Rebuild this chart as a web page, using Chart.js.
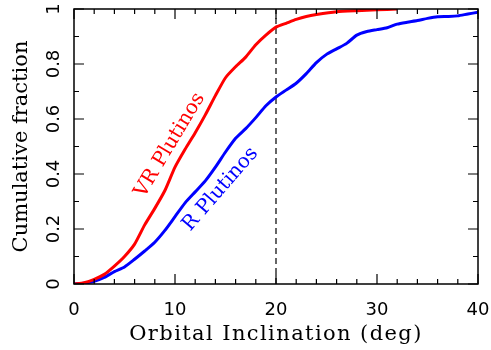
<!DOCTYPE html>
<html>
<head>
<meta charset="utf-8">
<script src="https://cdn.jsdelivr.net/npm/chart.js@4.4.0/dist/chart.umd.min.js"></script>
<style>
  html, body { margin: 0; padding: 0; background: #ffffff; }
</style>
</head>
<body>
<canvas id="cdfChart" width="491" height="350"></canvas>
<script>
// cumulative inclination distributions
const vrIncl = [0, 1, 2, 3, 4, 5, 6, 7, 8, 9, 10, 11, 12, 13, 14, 15, 16, 17, 18, 19, 20, 21, 22, 23, 24, 26, 28, 30, 32];
const vrFrac = [0, 0.005, 0.017, 0.035, 0.065, 0.10, 0.145, 0.215, 0.275, 0.34, 0.425, 0.49, 0.55, 0.615, 0.685,
  0.75, 0.79, 0.825, 0.87, 0.905, 0.934, 0.948, 0.962, 0.973, 0.98, 0.99, 0.994, 0.997, 1.0];

const rIncl = [0, 1, 2, 3, 4, 5, 6, 7, 8, 9, 10, 11, 12, 13, 14, 15, 16, 17, 18, 19, 20,
  21, 22, 23, 24, 25, 26, 27, 28, 29, 30, 31, 32, 33, 34, 35, 36, 37, 38, 39, 40];
const rFrac = [0, 0.003, 0.01, 0.024, 0.045, 0.062, 0.09, 0.12, 0.152, 0.195, 0.245, 0.295, 0.335, 0.375, 0.425,
  0.48, 0.53, 0.565, 0.605, 0.648, 0.68, 0.705, 0.73, 0.765, 0.805, 0.835, 0.855, 0.875, 0.905, 0.918,
  0.925, 0.932, 0.945, 0.952, 0.958, 0.966, 0.972, 0.973, 0.975, 0.982, 0.988];

const cutIncl = 20;
const yTickVals = [0, 0.2, 0.4, 0.6, 0.8, 1];
const yTickText = ['0', '0.2', '0.4', '0.6', '0.8', '1'];
const curveNames = ['VR Plutinos', 'R Plutinos'];
const xTitle = 'Orbital Inclination (deg)';

const serif = "'DejaVu Serif', serif";
const sans = "'DejaVu Sans', sans-serif";

function toPoints(xs, ys) {
  return xs.map((x, i) => ({ x: x, y: ys[i] }));
}

// frame, inward ticks on all sides, rotated y labels, x title, curve names
const framePlugin = {
  id: 'frame',
  afterDraw(chart) {
    const ctx = chart.ctx;
    const a = chart.chartArea;
    const xs = chart.scales.x;
    const ys = chart.scales.y;
    ctx.save();
    ctx.strokeStyle = '#000';
    ctx.lineWidth = 1.5;
    ctx.strokeRect(a.left, a.top, a.right - a.left, a.bottom - a.top);

    ctx.lineWidth = 1.2;
    ctx.beginPath();
    for (let v = 0; v <= 40; v += 2) {
      const px = xs.getPixelForValue(v);
      const len = v % 10 === 0 ? 10 : 5;
      ctx.moveTo(px, a.bottom); ctx.lineTo(px, a.bottom - len);
      ctx.moveTo(px, a.top); ctx.lineTo(px, a.top + len);
    }
    for (let k = 0; k <= 10; k++) {
      const py = ys.getPixelForValue(k / 10);
      const len = k % 2 === 0 ? 10 : 5;
      ctx.moveTo(a.left, py); ctx.lineTo(a.left + len, py);
      ctx.moveTo(a.right, py); ctx.lineTo(a.right - len, py);
    }
    ctx.stroke();

    ctx.fillStyle = '#000';
    ctx.font = '18px ' + sans;
    ctx.textAlign = 'center';
    ctx.textBaseline = 'middle';
    yTickVals.forEach((v, i) => {
      ctx.save();
      ctx.translate(54, ys.getPixelForValue(v));
      ctx.rotate(-Math.PI / 2);
      ctx.fillText(yTickText[i], 0, 0);
      ctx.restore();
    });

    ctx.save();
    ctx.font = '21px ' + serif;
    ctx.letterSpacing = '1.4px';
    ctx.fillText(xTitle, (a.left + a.right) / 2, 335);
    ctx.restore();

    ctx.font = '20px ' + serif;
    ctx.save();
    ctx.fillStyle = '#ff0000';
    ctx.translate(xs.getPixelForValue(9.5), ys.getPixelForValue(0.505));
    ctx.rotate(-59 * Math.PI / 180);
    ctx.fillText(curveNames[0], 0, 0);
    ctx.restore();

    ctx.save();
    ctx.fillStyle = '#0000ff';
    ctx.translate(xs.getPixelForValue(14.5), ys.getPixelForValue(0.345));
    ctx.rotate(-49 * Math.PI / 180);
    ctx.fillText(curveNames[1], 0, 0);
    ctx.restore();

    ctx.restore();
  }
};

const ctx = document.getElementById('cdfChart').getContext('2d');
new Chart(ctx, {
  type: 'scatter',
  data: {
    datasets: [
      {
        data: toPoints(vrIncl, vrFrac),
        showLine: true,
        borderColor: '#ff0000',
        borderWidth: 3,
        pointRadius: 0,
        tension: 0.2
      },
      {
        data: toPoints(rIncl, rFrac),
        showLine: true,
        borderColor: '#0000ff',
        borderWidth: 3,
        pointRadius: 0,
        tension: 0.2
      },
      {
        data: [{ x: cutIncl, y: 0 }, { x: cutIncl, y: 1 }],
        showLine: true,
        borderColor: '#000000',
        borderWidth: 1.2,
        borderDash: [6, 4],
        pointRadius: 0
      }
    ]
  },
  options: {
    responsive: false,
    animation: false,
    layout: { padding: { top: 9, right: 13, left: 0, bottom: 0 } },
    plugins: {
      legend: { display: false },
      tooltip: { enabled: false }
    },
    scales: {
      x: {
        type: 'linear',
        min: 0,
        max: 40,
        grid: { display: false },
        border: { display: false },
        ticks: {
          stepSize: 10,
          color: '#000',
          font: { family: sans, size: 18 },
          padding: 8,
          maxRotation: 0
        },
        title: { display: false },
        afterFit(scale) {
          scale.height = 66;
          scale.paddingLeft = 0;
          scale.paddingRight = 0;
        }
      },
      y: {
        type: 'linear',
        min: 0,
        max: 1,
        grid: { display: false },
        border: { display: false },
        ticks: { display: false },
        title: {
          display: true,
          text: 'Cumulative fraction',
          color: '#000',
          font: { family: serif, size: 21 },
          padding: { top: 9, bottom: 0 }
        },
        afterFit(scale) { scale.width = 74; }
      }
    }
  },
  plugins: [framePlugin]
});
</script>
</body>
</html>
